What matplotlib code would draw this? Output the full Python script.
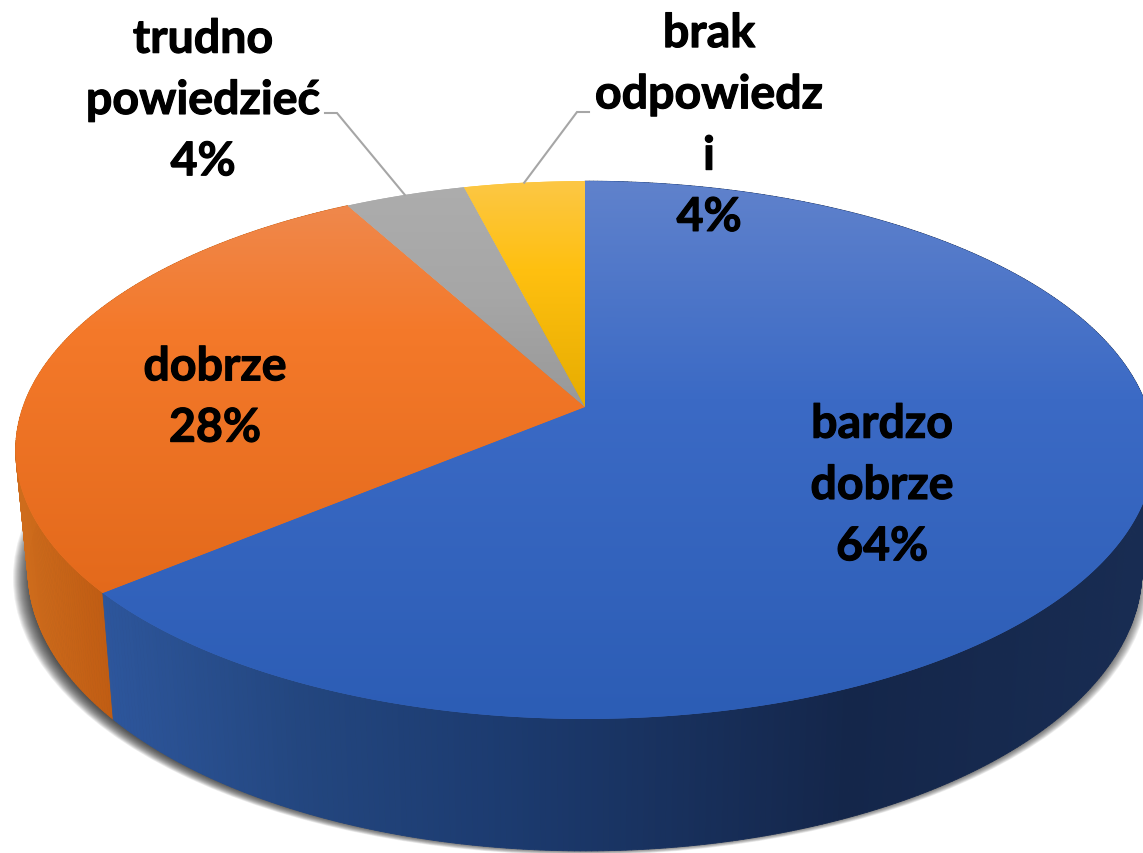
import numpy as np
import matplotlib
matplotlib.use("Agg")
import matplotlib.pyplot as plt
import matplotlib.patheffects as pe
from matplotlib.patches import Polygon, Ellipse
from matplotlib.collections import PolyCollection
from matplotlib.colors import to_rgb

categories = ["bardzo\ndobrze", "dobrze", "trudno\npowiedzieć", "brak\nodpowiedz\ni"]
values = [64, 28, 4, 4]
pct_labels = ["64%", "28%", "4%", "4%"]

top_stops = [
    [(182, "#6082CC"), (400, "#3B6AC5"), (720, "#2C5DB5")],
    [(182, "#EE8B53"), (330, "#F4792A"), (600, "#E3691B")],
    [(182, "#ADADAD"), (300, "#A6A6A6"), (410, "#989898")],
    [(182, "#FCC745"), (270, "#FFC010"), (410, "#E6AC00")],
]
side_stops = [
    [(100, "#2D569C"), (300, "#23467F"), (500, "#1C3B70"), (850, "#14264A"), (1143, "#182C52")],
    [(15, "#CE6C1C"), (110, "#BF5B12")],
]
text_pos = [(882, 486), (215, 398), (203, 101), (709, 126)]
leader_knee = {2: [(337, 114), (325, 114)], 3: [(577, 113), (589, 113)]}

W, H = 1143, 854
CX, CY, A, B, K = 585, 408, 562, 262, 0.16
ECY, EB = 451, 269
BCY, BA, BB = 571, 557, 281


def top_xy(theta):
    x, y = np.sin(theta), np.cos(theta)
    d = 1 + K * y
    return CX + A * x / d, CY - B * y / d


def bottom_xy(theta):
    x, y = top_xy(theta)
    ea = A / np.sqrt(1 - K ** 2)
    return CX + (x - CX) * BA / ea, BCY + (y - ECY) * BB / EB


def interp_color(stops, v):
    p = [s[0] for s in stops]
    c = np.array([to_rgb(s[1]) for s in stops])
    return np.stack([np.interp(v, p, c[:, i]) for i in range(3)], axis=-1)


fig = plt.figure(figsize=(W / 100, H / 100), dpi=100)
ax = fig.add_axes([0, 0, 1, 1])
ax.set_xlim(0, W)
ax.set_ylim(H, 0)
ax.axis("off")

# soft shadow
for i in range(18):
    ax.add_patch(Ellipse((581, 579), 2 * (568 - i * 1.0), 2 * (277 - i * 0.45),
                         fc="#202020", ec="none", alpha=0.075, zorder=1))

fractions = np.array(values, dtype=float) / sum(values)
# clockwise from the top
edges = np.concatenate([[0], np.cumsum(fractions)]) * 2 * np.pi

# side walls
for i in [1, 0]:
    start, stop = edges[i], edges[i + 1]
    th = np.linspace(start, stop, int(abs(stop - start) * 180 / np.pi * 2) + 2)
    xt, yt = top_xy(th)
    xb, yb = bottom_xy(th)
    quads = [[(xt[j], yt[j]), (xt[j + 1], yt[j + 1]), (xb[j + 1], yb[j + 1]), (xb[j], yb[j])]
             for j in range(len(th) - 1)]
    xm = (xt[:-1] + xt[1:]) / 2
    cols = interp_color(side_stops[i], xm)
    ax.add_collection(PolyCollection(quads, facecolors=cols, edgecolors=cols, linewidths=0.6, zorder=2))

# top faces
yy = np.linspace(0, H, 428).reshape(-1, 1)
for i in range(len(values)):
    th = np.linspace(edges[i], edges[i + 1], 300)
    xt, yt = top_xy(th)
    poly = Polygon(np.column_stack([np.r_[CX, xt], np.r_[CY, yt]]), closed=True,
                   fc=to_rgb(top_stops[i][1][1]), ec="none", zorder=3)
    ax.add_patch(poly)
    rgb = interp_color(top_stops[i], yy)
    im = ax.imshow(rgb, extent=(0, W, H, 0), aspect="auto", zorder=3.1, interpolation="bilinear")
    im.set_clip_path(poly)
ax.set_xlim(0, W)
ax.set_ylim(H, 0)

# leader lines
for i, knee in leader_knee.items():
    mid = (edges[i] + edges[i + 1]) / 2
    x0, y0 = top_xy(mid)
    xs = [x0] + [k[0] for k in knee]
    ys = [y0] + [k[1] for k in knee]
    ax.plot(xs, ys, color="#A6A6A6", lw=1.5, zorder=4, solid_joinstyle="miter")

# labels
for (x, y), c, p in zip(text_pos, categories, pct_labels):
    t = ax.text(x, y, f"{c}\n{p}", ha="center", va="center", ma="center", family="Lato",
                weight="bold", fontsize=33.5, linespacing=1.48, color="black", zorder=5)
    t.set_path_effects([pe.withStroke(linewidth=0.8, foreground="black")])

fig.savefig("out.png", dpi=100)
